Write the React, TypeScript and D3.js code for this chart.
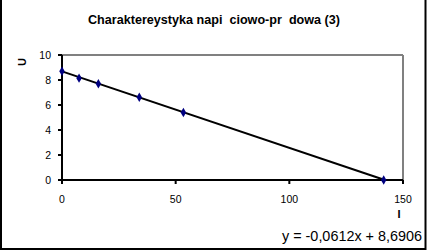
import React from "react";
import * as d3 from "d3";

const currentI = [0, 7.5, 16, 34, 53.4, 141.5];
const voltageU = [8.7, 8.15, 7.7, 6.62, 5.4, 0];
const xTicks = [0, 50, 100, 150];
const yTicks = [0, 2, 4, 6, 8, 10];
const slope = -0.0612;
const intercept = 8.6906;
const titleText = "Charaktereystyka napi  ciowo-pr  dowa (3)";
const equationText = "y = -0,0612x + 8,6906";

export default function App() {
  const W = 427, H = 252;
  const x = d3.scaleLinear().domain([0, 150]).range([62, 403]);
  const y = d3.scaleLinear().domain([0, 10]).range([180, 55]);
  const font = "'Liberation Sans', Arial, sans-serif";
  const xEnd = -intercept / slope;
  const trend = d3.line<number>()(
    [0, xEnd].map((v) => [x(v), y(slope * v + intercept)] as [number, number])
  );
  const diamond = d3.symbol().type(d3.symbolDiamond).size(26)();
  return (
    <svg width={W} height={H} style={{ position: "absolute", left: 0, top: 0 }} fontFamily={font}>
      <rect x={0} y={0} width={W} height={H} fill="#fff" />
      <rect x={1} y={-2} width={424.5} height={251} fill="none" stroke="#000" strokeWidth={2} />
      <text x={214} y={23.5} textAnchor="middle" fontSize={12.6} fontWeight="bold" style={{ whiteSpace: "pre" }}>{titleText}</text>
      {/* plot frame */}
      <line x1={x(0)} x2={x(150)} y1={y(10)} y2={y(10)} stroke="#808080" strokeWidth={2} />
      <line x1={x(150)} x2={x(150)} y1={y(10)} y2={y(0)} stroke="#808080" strokeWidth={2} />
      <line x1={x(0)} x2={x(0)} y1={y(10)} y2={y(0)} stroke="#000" strokeWidth={2} />
      <line x1={x(0)} x2={x(150)} y1={y(0)} y2={y(0)} stroke="#000" strokeWidth={2} />
      {yTicks.map((t) => (
        <g key={"y" + t}>
          <line x1={x(0) - 4} x2={x(0)} y1={y(t)} y2={y(t)} stroke="#000" strokeWidth={2} />
          <text x={51} y={y(t) + 3.5} textAnchor="end" fontSize={10.5}>{t}</text>
        </g>
      ))}
      {xTicks.map((t) => (
        <g key={"x" + t}>
          <line x1={x(t)} x2={x(t)} y1={y(0)} y2={y(0) + 4} stroke="#000" strokeWidth={2} />
          <text x={x(t)} y={203} textAnchor="middle" fontSize={10.5}>{t}</text>
        </g>
      ))}
      <text transform="translate(26,62) rotate(-90)" textAnchor="middle" fontSize={11} fontWeight="bold">U</text>
      <text x={399} y={218} textAnchor="middle" fontSize={11} fontWeight="bold">I</text>
      <path d={trend || ""} fill="none" stroke="#000" strokeWidth={2} />
      {currentI.map((v, i) => (
        <path key={i} d={diamond || ""} transform={`translate(${x(v)},${y(voltageU[i])})`} fill="#000080" />
      ))}
      <text x={422} y={240.5} textAnchor="end" fontSize={14.4}>{equationText}</text>
    </svg>
  );
}
